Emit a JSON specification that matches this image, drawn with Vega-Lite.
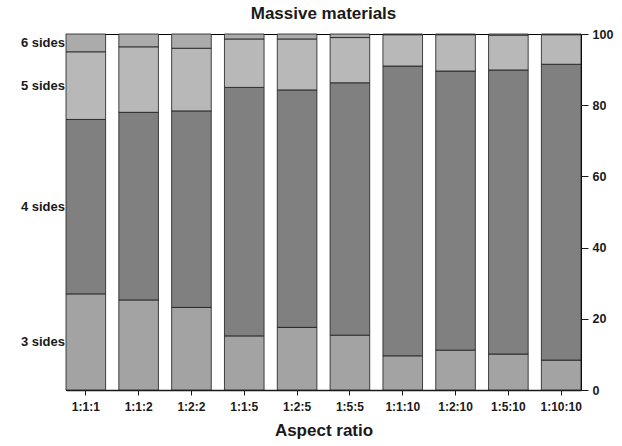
{
  "$schema": "https://vega.github.io/schema/vega-lite/v6.json",
  "autosize": "none",
  "width": 515,
  "height": 356,
  "padding": {"left": 66, "top": 34, "right": 41, "bottom": 56},
  "background": "white",
  "config": {
    "font": "Liberation Sans",
    "view": {"stroke": "black", "strokeWidth": 1},
    "title": {"fontSize": 17, "fontWeight": "bold", "color": "#1a1a1a", "offset": 5}
  },
  "title": {"text": "Massive materials"},
  "data": {
    "values": [
      {"ratio": "1:1:1", "sides": "3 sides", "order": 3, "pct": 27.0},
      {"ratio": "1:1:1", "sides": "4 sides", "order": 4, "pct": 49.0},
      {"ratio": "1:1:1", "sides": "5 sides", "order": 5, "pct": 19.0},
      {"ratio": "1:1:1", "sides": "6 sides", "order": 6, "pct": 5.0},
      {"ratio": "1:1:2", "sides": "3 sides", "order": 3, "pct": 25.3},
      {"ratio": "1:1:2", "sides": "4 sides", "order": 4, "pct": 52.7},
      {"ratio": "1:1:2", "sides": "5 sides", "order": 5, "pct": 18.4},
      {"ratio": "1:1:2", "sides": "6 sides", "order": 6, "pct": 3.6},
      {"ratio": "1:2:2", "sides": "3 sides", "order": 3, "pct": 23.2},
      {"ratio": "1:2:2", "sides": "4 sides", "order": 4, "pct": 55.2},
      {"ratio": "1:2:2", "sides": "5 sides", "order": 5, "pct": 17.6},
      {"ratio": "1:2:2", "sides": "6 sides", "order": 6, "pct": 4.0},
      {"ratio": "1:1:5", "sides": "3 sides", "order": 3, "pct": 15.2},
      {"ratio": "1:1:5", "sides": "4 sides", "order": 4, "pct": 69.8},
      {"ratio": "1:1:5", "sides": "5 sides", "order": 5, "pct": 13.6},
      {"ratio": "1:1:5", "sides": "6 sides", "order": 6, "pct": 1.4},
      {"ratio": "1:2:5", "sides": "3 sides", "order": 3, "pct": 17.6},
      {"ratio": "1:2:5", "sides": "4 sides", "order": 4, "pct": 66.7},
      {"ratio": "1:2:5", "sides": "5 sides", "order": 5, "pct": 14.3},
      {"ratio": "1:2:5", "sides": "6 sides", "order": 6, "pct": 1.4},
      {"ratio": "1:5:5", "sides": "3 sides", "order": 3, "pct": 15.4},
      {"ratio": "1:5:5", "sides": "4 sides", "order": 4, "pct": 70.9},
      {"ratio": "1:5:5", "sides": "5 sides", "order": 5, "pct": 12.7},
      {"ratio": "1:5:5", "sides": "6 sides", "order": 6, "pct": 1.0},
      {"ratio": "1:1:10", "sides": "3 sides", "order": 3, "pct": 9.6},
      {"ratio": "1:1:10", "sides": "4 sides", "order": 4, "pct": 81.4},
      {"ratio": "1:1:10", "sides": "5 sides", "order": 5, "pct": 8.8},
      {"ratio": "1:1:10", "sides": "6 sides", "order": 6, "pct": 0.2},
      {"ratio": "1:2:10", "sides": "3 sides", "order": 3, "pct": 11.2},
      {"ratio": "1:2:10", "sides": "4 sides", "order": 4, "pct": 78.4},
      {"ratio": "1:2:10", "sides": "5 sides", "order": 5, "pct": 10.2},
      {"ratio": "1:2:10", "sides": "6 sides", "order": 6, "pct": 0.2},
      {"ratio": "1:5:10", "sides": "3 sides", "order": 3, "pct": 10.1},
      {"ratio": "1:5:10", "sides": "4 sides", "order": 4, "pct": 79.8},
      {"ratio": "1:5:10", "sides": "5 sides", "order": 5, "pct": 9.8},
      {"ratio": "1:5:10", "sides": "6 sides", "order": 6, "pct": 0.3},
      {"ratio": "1:10:10", "sides": "3 sides", "order": 3, "pct": 8.4},
      {"ratio": "1:10:10", "sides": "4 sides", "order": 4, "pct": 83.1},
      {"ratio": "1:10:10", "sides": "5 sides", "order": 5, "pct": 8.3},
      {"ratio": "1:10:10", "sides": "6 sides", "order": 6, "pct": 0.2}
    ]
  },
  "layer": [
    {
      "mark": {"type": "bar", "stroke": "#1a1a1a", "strokeWidth": 0.8},
      "encoding": {
        "x": {
          "field": "ratio",
          "type": "nominal",
          "sort": null,
          "scale": {"paddingInner": 0.25, "paddingOuter": 0},
          "axis": {
            "title": "Aspect ratio",
            "titleFontSize": 17,
            "titleFontWeight": "bold",
            "titleColor": "#1a1a1a",
            "titlePadding": 10,
            "labelAngle": 0,
            "labelFontSize": 12,
            "labelFontWeight": "bold",
            "labelColor": "#1a1a1a",
            "labelPadding": 6,
            "tickSize": 5,
            "tickColor": "#1a1a1a",
            "domainColor": "#1a1a1a",
            "domainWidth": 1.5
          }
        },
        "y": {
          "field": "pct",
          "type": "quantitative",
          "stack": "zero",
          "scale": {"domain": [0, 100], "nice": false},
          "axis": {
            "orient": "right",
            "title": null,
            "values": [0, 10, 20, 30, 40, 50, 60, 70, 80, 90, 100],
            "labelExpr": "datum.value % 20 == 0 ? datum.label : ''",
            "labelFontSize": 12.5,
            "labelFontWeight": "bold",
            "labelColor": "#1a1a1a",
            "labelPadding": 4,
            "tickSize": 7,
            "tickColor": "#1a1a1a",
            "domain": false,
            "grid": false
          }
        },
        "color": {
          "field": "sides",
          "type": "nominal",
          "scale": {
            "domain": ["3 sides", "4 sides", "5 sides", "6 sides"],
            "range": ["#a3a3a3", "#808080", "#b8b8b8", "#ababab"]
          },
          "legend": null
        },
        "order": {"field": "order", "type": "quantitative"}
      }
    },
    {
      "transform": [
        {"stack": "pct", "groupby": ["ratio"], "sort": [{"field": "order"}], "as": ["lo", "hi"]},
        {"calculate": "(datum.lo + datum.hi) / 2", "as": "mid"},
        {"filter": "datum.ratio == '1:1:1'"}
      ],
      "mark": {"type": "text", "align": "right", "baseline": "middle", "dx": -1, "fontSize": 13, "fontWeight": "bold", "color": "#1a1a1a"},
      "encoding": {
        "x": {"field": "ratio", "type": "nominal", "sort": null, "bandPosition": 0},
        "y": {"field": "mid", "type": "quantitative"},
        "text": {"field": "sides"}
      }
    }
  ]
}
